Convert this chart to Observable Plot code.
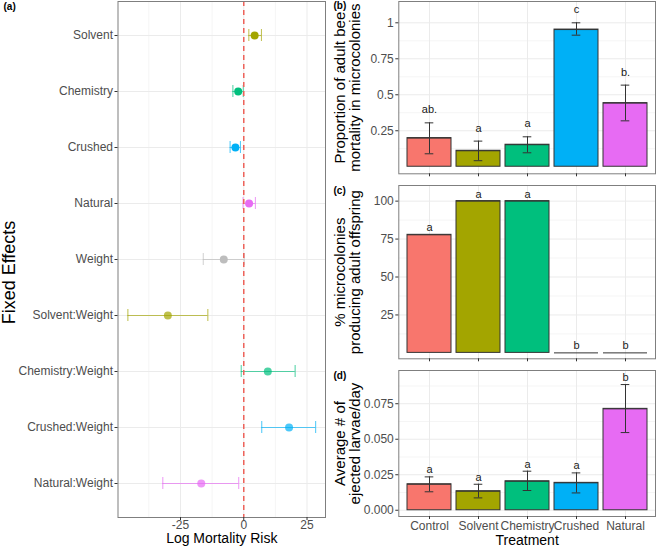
<!DOCTYPE html>
<html><head><meta charset="utf-8">
<script src="https://cdn.jsdelivr.net/npm/d3@7"></script>
<script src="https://cdn.jsdelivr.net/npm/@observablehq/plot@0.6"></script>
<style>
body{margin:0;background:#fff;}
#wrap{position:relative;width:658px;height:547px;overflow:hidden;background:#fff;}
#wrap > svg{position:absolute;}
</style></head><body><div id="wrap"></div>
<script>
// ---- Panel (a): fixed effects ----
const terms = ["Solvent","Chemistry","Crushed","Natural","Weight","Solvent:Weight","Chemistry:Weight","Crushed:Weight","Natural:Weight"];
const estimate = [4.3, -2.2, -3.3, 2.1, -7.9, -30.0, 9.5, 17.9, -16.8];
const lower    = [2.0, -4.3, -5.4, -0.3, -16.0, -45.8, -1.0, 7.1, -32.0];
const upper    = [7.0, -0.2, -1.3, 4.6, 0.2, -14.2, 20.3, 28.4, -2.0];
const xTicksA = [-25, 0, 25];
const xMinorA = [-37.5, -12.5, 12.5];

// ---- Panels (b)-(d): treatments ----
const treatments = ["Control","Solvent","Chemistry","Crushed","Natural"];
const mortality   = [0.199, 0.111, 0.153, 0.953, 0.442];
const mortalityLo = [0.090, 0.042, 0.097, 0.914, 0.319];
const mortalityHi = [0.305, 0.178, 0.208, 1.000, 0.567];
const mortalityLetters = ["ab.","a","a","c","b."];
const mortalityTicks = [0.25, 0.5, 0.75, 1];
const mortalityTickLabels = ["0.25","0.5","0.75","1"];

const offspring = [77.8, 100, 100, 0, 0];
const offspringLetters = ["a","a","a","b","b"];
const offspringTicks = [25, 50, 75, 100];
const offspringTickLabels = ["25","50","75","100"];

const ejected   = [0.0183, 0.0134, 0.0204, 0.0193, 0.0714];
const ejectedLo = [0.0130, 0.0087, 0.0139, 0.0122, 0.0547];
const ejectedHi = [0.0235, 0.0183, 0.0275, 0.0263, 0.0885];
const ejectedLetters = ["a","a","a","a","b"];
const ejectedTicks = [0, 0.025, 0.05, 0.075];
const ejectedTickLabels = ["0.000","0.025","0.050","0.075"];

const FONT = "'Liberation Sans', Arial, Helvetica, sans-serif";
const wrap = document.getElementById("wrap");
const styleBase = {fontFamily: FONT, fontSize: "12px", color: "#4d4d4d", background: "transparent", overflow: "visible"};
const GRID = "#ebebeb", GRIDMINOR = "#f5f5f5", FRAME = "#7f7f7f", DARK = "#333333";

const baseColors = {domain: ["Solvent","Chemistry","Crushed","Natural","Weight"],
                    range: ["#A3A500","#00BF7D","#00B0F6","#E76BF3","#BDBDBD"]};
const treatColors = {domain: treatments, range: ["#F8766D","#A3A500","#00BF7D","#00B0F6","#E76BF3"]};

function place(svg, left, top) {
  svg.style.left = left + "px";
  svg.style.top = top + "px";
  wrap.appendChild(svg);
}

// Panel (a)
const effects = terms.map((t, i) => ({term: t, base: t.split(":")[0], estimate: estimate[i], lower: lower[i], upper: upper[i]}));
const isInter = d => d.term.includes(":");
const plotA = Plot.plot({
  width: 330, height: 547,
  marginLeft: 117.5, marginRight: 5, marginTop: 1, marginBottom: 30,
  style: styleBase,
  x: {domain: [-49.7, 32.3]},
  y: {type: "band", domain: terms, paddingInner: 0.786, paddingOuter: 0.493},
  color: baseColors,
  marks: [
    Plot.gridX({ticks: xMinorA, stroke: GRIDMINOR, strokeOpacity: 1}),
    Plot.gridX({ticks: xTicksA, stroke: GRID, strokeOpacity: 1}),
    Plot.gridY({stroke: GRID, strokeOpacity: 1}),
    Plot.ruleY(effects, {y: "term", x1: "lower", x2: "upper", stroke: "base", strokeOpacity: 0.65, strokeWidth: 1.1}),
    Plot.tickX(effects, {x: "lower", y: "term", stroke: "base", strokeOpacity: 0.65, strokeWidth: 1.1}),
    Plot.tickX(effects, {x: "upper", y: "term", stroke: "base", strokeOpacity: 0.65, strokeWidth: 1.1}),
    Plot.dot(effects, {filter: d => !isInter(d), x: "estimate", y: "term", r: 4, fill: "base", stroke: null}),
    Plot.dot(effects, {filter: isInter, x: "estimate", y: "term", r: 4, fill: "base", fillOpacity: 0.7, stroke: null}),
    Plot.ruleX([0], {stroke: "#EE625A", strokeWidth: 1.5, strokeDasharray: "5,4"}),
    Plot.frame({stroke: FRAME}),
    Plot.axisX({ticks: xTicksA, tickFormat: d => String(d), tickSize: 3, tickPadding: 0, label: null, stroke: DARK}),
    Plot.axisY({tickSize: 3, tickPadding: 2, label: null, stroke: DARK}),
    Plot.text(["Log Mortality Risk"], {frameAnchor: "bottom", dy: 21.5, fontSize: 14, fill: "black", lineAnchor: "middle"}),
    Plot.text(["Fixed Effects"], {frameAnchor: "left", dx: -108.5, dy: 13, rotate: -90, fontSize: 18, fill: "black", textAnchor: "middle", lineAnchor: "middle"}),
    Plot.text(["(a)"], {frameAnchor: "top-left", dx: -114.5, dy: 5, fontSize: 10, fontWeight: "bold", fill: "black", textAnchor: "start", lineAnchor: "middle"})
  ]
});
place(plotA, 0, 0);

// Bar panels
function barPanel({values, lo, hi, letters, letterDy, domain, ticks, tickLabels, minor, title, tag, height, marginTop, marginBottom, showX}) {
  const rows = treatments.map((t, i) => ({treatment: t, value: values[i], lo: lo ? lo[i] : null, hi: hi ? hi[i] : null, letter: letters[i]}));
  const marks = [
    Plot.gridY({ticks: minor, stroke: GRIDMINOR, strokeOpacity: 1}),
    Plot.gridY({ticks: ticks, stroke: GRID, strokeOpacity: 1}),
    Plot.gridX({stroke: GRID, strokeOpacity: 1}),
    Plot.barY(rows, {x: "treatment", y: "value", fill: "treatment", stroke: DARK, strokeWidth: 1}),
    Plot.tickY(rows, {x: "treatment", y: "value", stroke: DARK, strokeWidth: 1})
  ];
  if (lo) {
    marks.push(
      Plot.ruleX(rows, {x: "treatment", y1: "lo", y2: "hi", stroke: DARK}),
      Plot.tickY(rows, {x: "treatment", y: "lo", stroke: DARK, insetLeft: 17.7, insetRight: 17.7}),
      Plot.tickY(rows, {x: "treatment", y: "hi", stroke: DARK, insetLeft: 17.7, insetRight: 17.7})
    );
  }
  marks.push(
    Plot.text(rows, {x: "treatment", y: lo ? "hi" : "value", text: "letter", dy: letterDy, fontSize: 11, fill: "#1a1a1a"}),
    Plot.frame({stroke: FRAME}),
    Plot.axisY({ticks, tickFormat: d => tickLabels[ticks.indexOf(d)], tickSize: 3, tickPadding: 2, label: null, stroke: DARK}),
    Plot.axisX({tickSize: 3, tickPadding: 2, label: null, stroke: DARK, tickFormat: showX ? (d => d) : (() => "")}),
    Plot.text([title], {frameAnchor: "left", dx: -50.8, rotate: -90, fontSize: 15, fill: "black", textAnchor: "middle", lineAnchor: "middle"}),
    Plot.text([tag], {frameAnchor: "top-left", dx: -65.3, dy: marginTop === 1 ? 4 : 5.5, fontSize: 10, fontWeight: "bold", fill: "black", textAnchor: "start", lineAnchor: "middle"})
  );
  if (showX) {
    marks.push(Plot.text(["Treatment"], {frameAnchor: "bottom", dy: 24, fontSize: 14, fill: "black", lineAnchor: "middle"}));
  }
  return Plot.plot({
    width: 328, height,
    marginLeft: 68.3, marginRight: 3, marginTop, marginBottom,
    style: styleBase,
    x: {type: "band", domain: treatments, paddingInner: 0.1, paddingOuter: 0.15},
    y: {domain},
    color: treatColors,
    marks
  });
}

place(barPanel({values: mortality, lo: mortalityLo, hi: mortalityHi, letters: mortalityLetters, letterDy: -13,
  domain: [-0.049, 1.148], ticks: mortalityTicks, tickLabels: mortalityTickLabels, minor: [0.125, 0.375, 0.625, 0.875],
  title: "Proportion of adult bee\nmortality in microcolonies", tag: "(b)", height: 180, marginTop: 1, marginBottom: 6.7, showX: false}), 330, 0);

place(barPanel({values: offspring, lo: null, hi: null, letters: offspringLetters, letterDy: -7,
  domain: [-3.9, 110.3], ticks: offspringTicks, tickLabels: offspringTickLabels, minor: [12.5, 37.5, 62.5, 87.5],
  title: "% microcolonies\nproducing adult offspring", tag: "(c)", height: 185, marginTop: 5, marginBottom: 6.7, showX: false}), 330, 180);

place(barPanel({values: ejected, lo: ejectedLo, hi: ejectedHi, letters: ejectedLetters, letterDy: -7,
  domain: [-0.0044, 0.0984], ticks: ejectedTicks, tickLabels: ejectedTickLabels, minor: [0.0125, 0.0375, 0.0625, 0.0875],
  title: "Average # of\nejected larvae/day", tag: "(d)", height: 182, marginTop: 5, marginBottom: 31, showX: true}), 330, 365);
</script></body></html>
